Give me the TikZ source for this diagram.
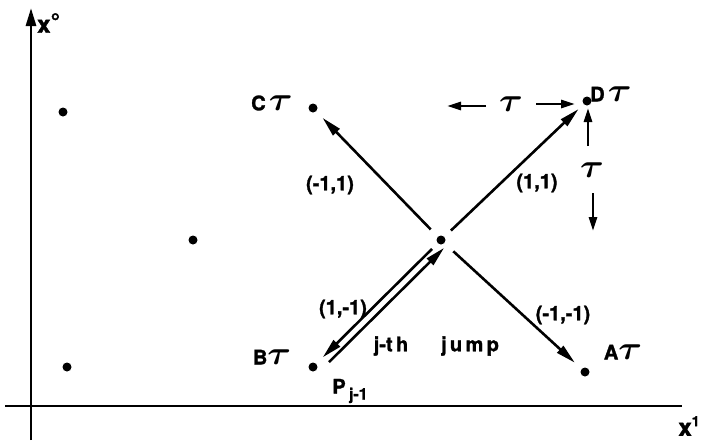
\documentclass[tikz,border=0pt]{standalone}
\usepackage{fontspec}
\usepackage{amsmath,amsbsy}
\setmainfont{TeX Gyre Heros}[BoldFeatures={FakeBold=1.6}]
\usetikzlibrary{arrows.meta,calc}
\newcommand{\tauB}{\scalebox{1.75}[1.6]{$\boldsymbol{\tau}$}}
\begin{document}
\begin{tikzpicture}[x=1pt,y=-1pt,
  dot/.style={circle,fill=black,inner sep=0pt,minimum size=9pt},
  lbl/.style={font=\fontsize{20}{24}\selectfont\bfseries,inner sep=0pt},
  arr/.style={line width=2.6pt,-{Triangle[length=20pt,width=9pt]}},
  tarr/.style={line width=2.6pt,-{Triangle[length=14pt,width=8pt]}},
  axis/.style={line width=2.8pt}]
\useasboundingbox (0,0) rectangle (705,440);
% axes
\coordinate (ybot) at (31,440);
\coordinate (ytop) at (31,8);
\coordinate (xl) at (5,406);
\coordinate (xr) at (682,406);
\draw[axis,-{Triangle[length=18pt,width=10pt]}] (ybot) -- (ytop);
\draw[axis] (xl) -- (xr);
\node[lbl,anchor=west,font=\fontsize{24}{28}\selectfont\bfseries] (xo) at (37,23) {x\raisebox{0.1em}{°}};
\node[lbl,font=\fontsize{24}{28}\selectfont\bfseries] (x1) at (689,426) {x\raisebox{0.4em}{\fontsize{14}{16}\selectfont 1}};
% dots
\node[dot] (d1) at (63,112) {};
\node[dot] (d2) at (193,240) {};
\node[dot] (d3) at (67,367) {};
\node[dot] (O) at (441,240) {};
\node[dot] (C) at (313,108) {};
\node[dot] (D) at (587,101) {};
\node[dot] (B) at (313,367) {};
\node[dot] (A) at (585,372) {};
% labels at points
\node[lbl] (Cl) at (272,103) {C\,\tauB};
\node[lbl] (Dl) at (611,94) {D\,\tauB};
\node[lbl] (Bl) at (272,357) {B\tauB};
\node[lbl] (Al) at (623,352) {A\tauB};
\node[lbl] (P) at (350,391) {P\,\raisebox{-0.3em}{\fontsize{16}{18}\selectfont j-1}};
\node[lbl] (jth) at (391,346) {j-t\,h};
\node[lbl] (jump) at (470,346) {j\,u\,m\,p};
% arrow labels
\node[lbl] (lC) at (330,185) {(-1,1)};
\node[lbl] (lD) at (537,183) {(1,1)};
\node[lbl] (lB) at (343,309) {(1,-1)};
\node[lbl] (lA) at (563,315) {(-1,-1)};
% arrows from center
\draw[arr,shorten <=10pt,shorten >=9pt] (O) -- (C);
\draw[arr,shorten <=9pt,shorten >=7pt] (O) -- (D);
\draw[arr,shorten <=12pt,shorten >=9pt] (O) -- (A);
\draw[arr,shorten <=8pt,shorten >=9pt] (O) -- (B);
\coordinate (B2) at ($(B)+(6,5)$);
\coordinate (O2) at ($(O)+(6,5)$);
\draw[arr,shorten <=14pt,shorten >=4pt] (B2) -- (O2);
% tau scales
\node[lbl] (th) at (511,104) {\tauB};
\coordinate (thl) at (447,106);
\coordinate (thls) at (486,106);
\coordinate (thr) at (575,104);
\coordinate (thrs) at (536,104);
\draw[tarr] (thls) -- (thl);
\draw[tarr] (thrs) -- (thr);
\node[lbl] (tv) at (592,170) {\tauB};
\coordinate (tvu) at (588,108);
\coordinate (tvus) at (588,146);
\coordinate (tvd) at (593,231);
\coordinate (tvds) at (593,193);
\draw[tarr] (tvus) -- (tvu);
\draw[tarr] (tvds) -- (tvd);
\end{tikzpicture}
\end{document}
